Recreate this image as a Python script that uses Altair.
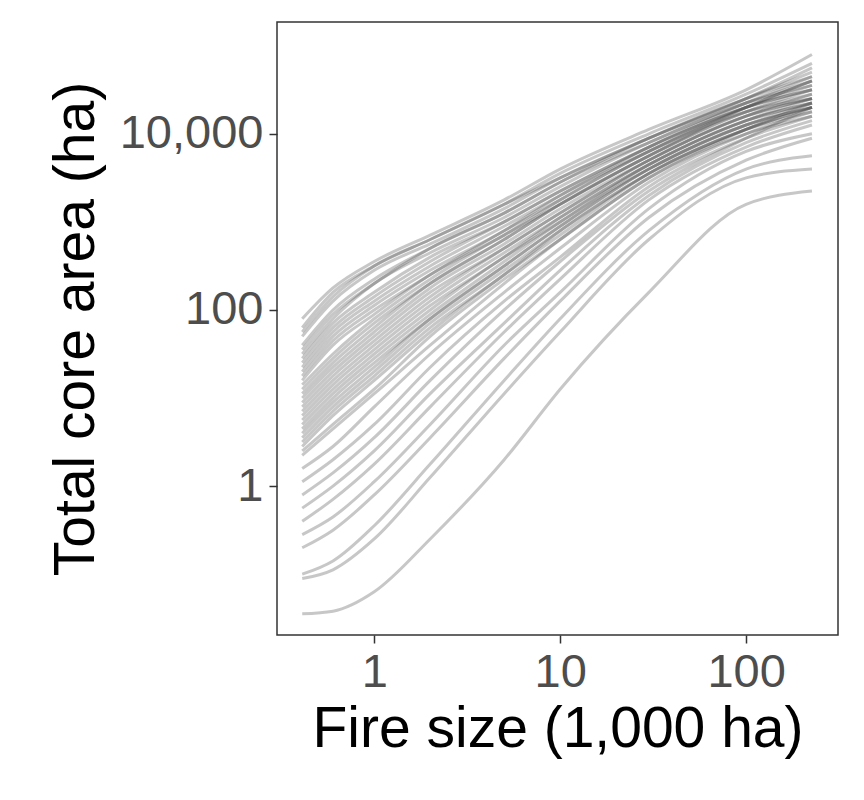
import altair as alt
import pandas as pd

# fire size (1,000 ha) where each curve was read
fire_size = [0.41, 0.6, 1, 2, 5, 10, 30, 100, 226]

# log10 of total core area (ha) per curve
curves = [
    [1.9, 2.25, 2.55, 2.85, 3.25, 3.6, 4.05, 4.5, 4.9],
    [1.8, 2.2, 2.5, 2.8, 3.2, 3.55, 4.0, 4.45, 4.8],
    [1.7, 2.1, 2.45, 2.75, 3.15, 3.5, 3.95, 4.4, 4.7],
    [1.6, 2.0, 2.35, 2.7, 3.1, 3.45, 3.95, 4.4, 4.65],
    [1.5, 1.9, 2.3, 2.65, 3.05, 3.4, 3.9, 4.35, 4.6],
    [1.45, 1.85, 2.2, 2.6, 3.0, 3.35, 3.85, 4.35, 4.65],
    [1.35, 1.75, 2.1, 2.5, 2.95, 3.3, 3.85, 4.3, 4.55],
    [1.3, 1.7, 2.05, 2.45, 2.9, 3.3, 3.8, 4.3, 4.6],
    [1.2, 1.6, 1.95, 2.4, 2.85, 3.25, 3.8, 4.3, 4.5],
    [1.15, 1.5, 1.9, 2.35, 2.85, 3.2, 3.75, 4.25, 4.45],
    [1.05, 1.4, 1.8, 2.3, 2.8, 3.2, 3.75, 4.25, 4.5],
    [1.0, 1.35, 1.75, 2.25, 2.75, 3.15, 3.7, 4.2, 4.4],
    [0.9, 1.25, 1.65, 2.15, 2.7, 3.1, 3.7, 4.2, 4.45],
    [0.85, 1.2, 1.6, 2.1, 2.65, 3.05, 3.65, 4.15, 4.35],
    [0.75, 1.1, 1.5, 2.0, 2.6, 3.0, 3.65, 4.15, 4.4],
    [0.7, 1.05, 1.45, 1.95, 2.55, 3.0, 3.6, 4.1, 4.3],
    [0.6, 0.95, 1.35, 1.9, 2.5, 2.95, 3.6, 4.1, 4.35],
    [0.55, 0.9, 1.3, 1.85, 2.45, 2.9, 3.55, 4.05, 4.25],
    [0.45, 0.8, 1.2, 1.75, 2.4, 2.85, 3.55, 4.05, 4.3],
    [0.4, 0.7, 1.1, 1.7, 2.35, 2.8, 3.5, 4.0, 4.2],
    [0.35, 0.65, 1.05, 1.6, 2.3, 2.8, 3.5, 4.05, 4.35],
    [0.2, 0.45, 0.9, 1.5, 2.2, 2.7, 3.45, 4.0, 4.25],
    [0.05, 0.3, 0.7, 1.35, 2.1, 2.6, 3.4, 3.95, 4.2],
    [-0.1, 0.15, 0.55, 1.2, 2.0, 2.55, 3.35, 3.95, 4.3],
    [-0.25, 0.0, 0.4, 1.05, 1.85, 2.45, 3.3, 3.9, 4.15],
    [-0.4, -0.15, 0.25, 0.9, 1.75, 2.35, 3.25, 3.85, 4.1],
    [-0.55, -0.35, 0.05, 0.7, 1.6, 2.2, 3.15, 3.8, 4.0],
    [-0.7, -0.5, -0.1, 0.55, 1.45, 2.1, 3.05, 3.7, 3.95],
    [-1.0, -0.85, -0.45, 0.25, 1.2, 1.9, 2.9, 3.6, 3.75],
    [-1.05, -0.95, -0.6, 0.1, 1.05, 1.75, 2.8, 3.5, 3.6],
    [-1.45, -1.42, -1.2, -0.6, 0.3, 1.1, 2.2, 3.2, 3.35],
    [1.75, 2.15, 2.5, 2.8, 3.2, 3.5, 3.95, 4.4, 4.75],
    [1.55, 1.95, 2.3, 2.7, 3.1, 3.45, 3.9, 4.35, 4.55],
    [1.25, 1.65, 2.0, 2.4, 2.9, 3.25, 3.8, 4.25, 4.4],
    [1.1, 1.45, 1.85, 2.3, 2.8, 3.2, 3.75, 4.3, 4.6],
    [0.95, 1.3, 1.7, 2.2, 2.7, 3.1, 3.7, 4.2, 4.4],
    [0.8, 1.15, 1.55, 2.05, 2.6, 3.05, 3.65, 4.15, 4.35],
    [0.65, 1.0, 1.4, 1.9, 2.5, 2.95, 3.6, 4.1, 4.3],
    [0.5, 0.85, 1.25, 1.8, 2.4, 2.9, 3.55, 4.05, 4.3],
    [1.4, 1.8, 2.15, 2.55, 3.0, 3.35, 3.85, 4.3, 4.5],
]

rows = []
for i, c in enumerate(curves):
    for x, ly in zip(fire_size, c):
        rows.append({"curve": i, "size": x, "core": 10 ** ly})
df = pd.DataFrame(rows)

font = "Liberation Sans"

chart = (
    alt.Chart(df)
    .mark_line(color="#444444", opacity=0.3, strokeWidth=3, interpolate="monotone")
    .encode(
        x=alt.X("size:Q", title="Fire size (1,000 ha)",
                scale=alt.Scale(type="log", domain=[0.3, 312], nice=False),
                axis=alt.Axis(values=[1, 10, 100], format=",")),
        y=alt.Y("core:Q", title="Total core area (ha)",
                scale=alt.Scale(type="log", domain=[0.0204, 186000], nice=False),
                axis=alt.Axis(values=[1, 100, 10000], format=",")),
        detail="curve:N",
    )
    .properties(width=561, height=613,
                autosize=alt.AutoSizeParams(type="none"),
                padding={"left": 269, "top": 14, "right": 10, "bottom": 150})
    .configure_view(stroke="#333333", strokeWidth=1.5)
    .configure_axis(grid=False, domain=False, tickColor="#333333", tickSize=8, tickWidth=1.5,
                    labelFont=font, labelFontSize=47, labelColor="#4d4d4d", labelPadding=6,
                    titleFont=font, titleFontSize=57, titleColor="black", titleFontWeight="normal")
    .configure_axisY(titlePadding=14)
    .configure_axisX(titlePadding=6)
)

chart.save("out.html", embed_options={"renderer": "svg", "actions": False})
